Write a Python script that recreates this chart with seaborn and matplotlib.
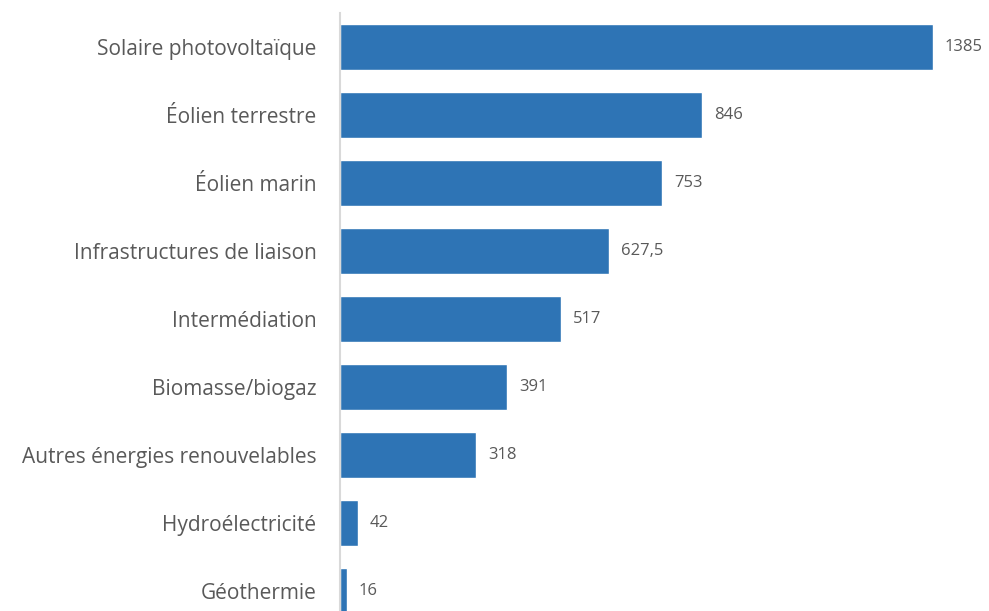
import matplotlib
matplotlib.use("Agg")
import matplotlib.pyplot as plt
import seaborn as sns
import pandas as pd

categories = ["Solaire photovoltaïque", "Éolien terrestre", "Éolien marin",
              "Infrastructures de liaison", "Intermédiation", "Biomasse/biogaz",
              "Autres énergies renouvelables", "Hydroélectricité", "Géothermie"]
values = [1385, 846, 753, 627.5, 517, 391, 318, 42, 16]
value_labels = ["1385", "846", "753", "627,5", "517", "391", "318", "42", "16"]

df = pd.DataFrame({"cat": categories, "val": values})

sns.set_theme(style="white")
plt.rcParams['font.family'] = ['Open Sans', 'DejaVu Sans']

fig = plt.figure(figsize=(9.89, 6.11), dpi=100)
ax = fig.add_axes([340/989, 0, 1 - 340/989, 598/611])

sns.barplot(data=df, x="val", y="cat", orient="h", color="#2E74B5",
            saturation=1, width=0.68, ax=ax)

ax.set_xlim(0, 1516)
ax.set_ylim(8.29, -0.5)
for sp in ["top", "right", "bottom"]:
    ax.spines[sp].set_visible(False)
ax.spines["left"].set_color("#D9D9D9")
ax.spines["left"].set_linewidth(1.5)
ax.set_xticks([])
ax.set_xlabel("")
ax.set_ylabel("")
ax.tick_params(axis="y", length=0, pad=17, labelsize=15, labelcolor="#595959")

for i, (v, lab) in enumerate(zip(values, value_labels)):
    ax.annotate(lab, (v, i), xytext=(12, 0), textcoords="offset pixels",
                va="center", ha="left", fontsize=12, color="#595959")

fig.savefig("out.png", dpi=100)
